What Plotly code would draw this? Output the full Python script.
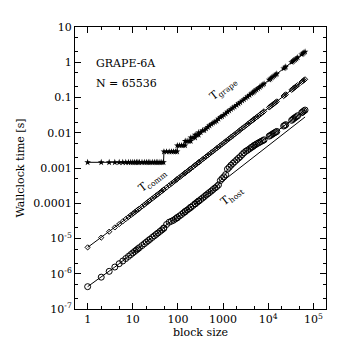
import plotly.graph_objects as go

# block sizes at which the timings were taken
block_size = [1, 2, 3, 4, 5, 6, 7, 8, 9, 10, 11, 12, 13, 14, 16, 18, 20, 22, 24, 27, 30, 33, 36, 40, 44, 48,
              49, 56, 64, 72, 80, 88, 96,
              97, 108, 120, 132, 144,
              145, 160, 176, 192,
              193, 216, 240,
              241, 264, 288,
              289, 320, 352, 384, 420, 460, 500, 550, 600, 660, 720, 790, 870, 950,
              1040, 1140, 1250, 1370, 1500, 1650, 1800, 2000, 2200, 2400, 2650, 2900, 3200, 3500, 3850,
              4200, 4500, 4800, 5100, 5500, 6000, 6500, 7000, 7600, 8100,
              10500, 11200, 12000, 12800, 13700, 14600, 15500,
              22000, 23200, 24500,
              33000, 35000, 37000, 39500, 42000, 45000,
              55000, 58000, 61500, 65536]

t_grape = [1.45e-3] * 26 + \
          [2.9e-3] * 7 + \
          [4.35e-3] * 5 + \
          [5.8e-3] * 4 + \
          [7.25e-3] * 3 + \
          [8.7e-3] * 3 + \
          [1.015e-2, 1.015e-2, 1.16e-2, 1.16e-2, 1.305e-2, 1.45e-2, 1.6e-2, 1.74e-2, 1.89e-2, 2.03e-2, 2.18e-2, 2.47e-2, 2.76e-2, 2.9e-2,
           3.19e-2, 3.48e-2, 3.92e-2, 4.2e-2, 4.64e-2, 5.08e-2, 5.5e-2, 6.1e-2, 6.7e-2, 7.25e-2, 8.1e-2, 8.8e-2, 9.7e-2, 0.106, 0.117,
           0.128, 0.136, 0.145, 0.155, 0.167, 0.181, 0.197, 0.212, 0.23, 0.245,
           0.318, 0.339, 0.363, 0.387, 0.415, 0.442, 0.468,
           0.666, 0.70, 0.74,
           0.998, 1.06, 1.12, 1.19, 1.27, 1.36,
           1.66, 1.75, 1.86, 1.98]

t_comm = [5.6e-6, 1.06e-5, 1.56e-5, 2.06e-5, 2.56e-5, 3.06e-5, 3.56e-5, 4.06e-5, 4.56e-5, 5.06e-5, 5.56e-5, 6.06e-5, 6.56e-5, 7.06e-5,
          8.06e-5, 9.06e-5, 1.006e-4, 1.106e-4, 1.206e-4, 1.356e-4, 1.506e-4, 1.656e-4, 1.806e-4, 2.006e-4, 2.206e-4, 2.41e-4,
          2.46e-4, 2.81e-4, 3.21e-4, 3.61e-4, 4.01e-4, 4.41e-4, 4.81e-4,
          4.86e-4, 5.41e-4, 6.01e-4, 6.61e-4, 7.21e-4,
          7.26e-4, 8.01e-4, 8.81e-4, 9.61e-4,
          9.66e-4, 1.08e-3, 1.2e-3,
          1.21e-3, 1.32e-3, 1.44e-3,
          1.45e-3, 1.6e-3, 1.76e-3, 1.92e-3, 2.1e-3, 2.3e-3, 2.5e-3, 2.75e-3, 3.0e-3, 3.3e-3, 3.6e-3, 3.95e-3, 4.35e-3, 4.75e-3,
          5.2e-3, 5.7e-3, 6.25e-3, 6.85e-3, 7.5e-3, 8.25e-3, 9.0e-3, 1.0e-2, 1.1e-2, 1.2e-2, 1.33e-2, 1.45e-2, 1.6e-2, 1.75e-2, 1.93e-2,
          2.1e-2, 2.25e-2, 2.4e-2, 2.55e-2, 2.75e-2, 3.0e-2, 3.25e-2, 3.5e-2, 3.8e-2, 4.05e-2,
          5.25e-2, 5.6e-2, 6.0e-2, 6.4e-2, 6.85e-2, 7.3e-2, 7.75e-2,
          0.11, 0.116, 0.1225,
          0.165, 0.175, 0.185, 0.198, 0.21, 0.225,
          0.275, 0.29, 0.308, 0.328]

t_host = [4.3e-7, 8.0e-7, 1.17e-6, 1.55e-6, 1.93e-6, 2.3e-6, 2.7e-6, 3.1e-6, 3.5e-6, 3.9e-6, 4.3e-6, 4.7e-6, 5.1e-6, 5.5e-6,
          6.3e-6, 7.1e-6, 7.9e-6, 8.7e-6, 9.5e-6, 1.07e-5, 1.19e-5, 1.31e-5, 1.43e-5, 1.59e-5, 1.75e-5, 1.92e-5,
          2.0e-5, 2.5e-5, 2.9e-5, 3.1e-5, 3.3e-5, 3.6e-5, 3.9e-5,
          3.9e-5, 4.35e-5, 4.8e-5, 5.3e-5, 5.8e-5,
          5.8e-5, 6.4e-5, 7.0e-5, 7.7e-5,
          7.7e-5, 8.6e-5, 9.6e-5,
          9.6e-5, 1.06e-4, 1.15e-4,
          1.16e-4, 1.28e-4, 1.41e-4, 1.54e-4, 1.7e-4, 1.86e-4, 2.02e-4, 2.22e-4, 2.45e-4, 2.7e-4, 2.95e-4, 3.3e-4, 4.4e-4, 5.0e-4,
          5.6e-4, 6.5e-4, 9.3e-4, 1.05e-3, 1.2e-3, 1.35e-3, 1.5e-3, 1.7e-3, 1.9e-3, 2.1e-3, 2.4e-3, 2.7e-3, 3.0e-3, 3.2e-3, 3.5e-3,
          3.8e-3, 4.0e-3, 4.3e-3, 4.5e-3, 4.8e-3, 5.1e-3, 5.4e-3, 5.7e-3, 6.0e-3, 6.3e-3,
          8.0e-3, 8.4e-3, 8.9e-3, 9.4e-3, 9.9e-3, 1.04e-2, 1.09e-2,
          1.55e-2, 1.62e-2, 1.7e-2,
          2.25e-2, 2.4e-2, 2.55e-2, 2.7e-2, 2.85e-2, 3.05e-2,
          3.7e-2, 3.9e-2, 4.15e-2, 4.4e-2]

# thin reference line below T_host
ref_x = [1000, 65536]
ref_y = [4.3e-4, 2.8e-2]

x_tickvals = [1, 10, 100, 1000, 1e4, 1e5]
x_ticktext = ["1", "10", "100", "1000", "10<sup>4</sup>", "10<sup>5</sup>"]
y_tickvals = [1e-7, 1e-6, 1e-5, 1e-4, 1e-3, 1e-2, 0.1, 1, 10]
y_ticktext = ["10<sup>-7</sup>", "10<sup>-6</sup>", "10<sup>-5</sup>", "0.0001", "0.001", "0.01", "0.1", "1", "10"]

fnt = "DejaVu Serif"

fig = go.Figure()

fig.add_trace(go.Scatter(x=block_size, y=t_grape, mode="lines+markers",
                         line=dict(color="black", width=1),
                         marker=dict(symbol="star", size=5, color="black")))
fig.add_trace(go.Scatter(x=block_size, y=t_comm, mode="lines+markers",
                         line=dict(color="black", width=1),
                         marker=dict(symbol="diamond-open", size=4, color="black", line=dict(width=1))))
fig.add_trace(go.Scatter(x=block_size, y=t_host, mode="lines+markers",
                         line=dict(color="black", width=1),
                         marker=dict(symbol="circle-open", size=6, color="black", line=dict(width=1))))
fig.add_trace(go.Scatter(x=ref_x, y=ref_y, mode="lines", line=dict(color="black", width=1)))

ann = [
    dict(x=0.075, y=0.90, xref="paper", yref="paper", text="GRAPE-6A", xanchor="left"),
    dict(x=0.075, y=0.83, xref="paper", yref="paper", text="N = 65536", xanchor="left"),
    dict(x=3.0, y=-0.75, text="T<sub>grape</sub>", textangle=-38),
    dict(x=1.45, y=-3.35, text="T<sub>comm</sub>", textangle=-38),
    dict(x=3.2, y=-3.8, text="T<sub>host</sub>", textangle=-38),
]
for a in ann:
    a.update(showarrow=False, font=dict(family=fnt, size=11, color="black"))

axis_common = dict(
    type="log", showgrid=False, zeroline=False, showline=True, linecolor="black", linewidth=1,
    mirror="allticks", ticks="inside", ticklen=6, tickcolor="black", tickwidth=1,
    minor=dict(ticks="inside", ticklen=3, tickcolor="black", showgrid=False),
    tickfont=dict(family=fnt, size=11, color="black"),
)

fig.update_layout(
    width=338, height=338,
    margin=dict(l=63, r=20, t=19, b=33),
    paper_bgcolor="white", plot_bgcolor="white",
    showlegend=False,
    annotations=ann,
    font=dict(family=fnt, size=11, color="black"),
    xaxis=dict(axis_common, range=[-0.28, 5.28], tickvals=x_tickvals, ticktext=x_ticktext,
               title=dict(text="block size", standoff=0, font=dict(family=fnt, size=11))),
    yaxis=dict(axis_common, range=[-7, 1], tickvals=y_tickvals, ticktext=y_ticktext,
               title=dict(text="Wallclock time [s]", standoff=6, font=dict(family=fnt, size=11))),
)

fig.write_html("out.html")
